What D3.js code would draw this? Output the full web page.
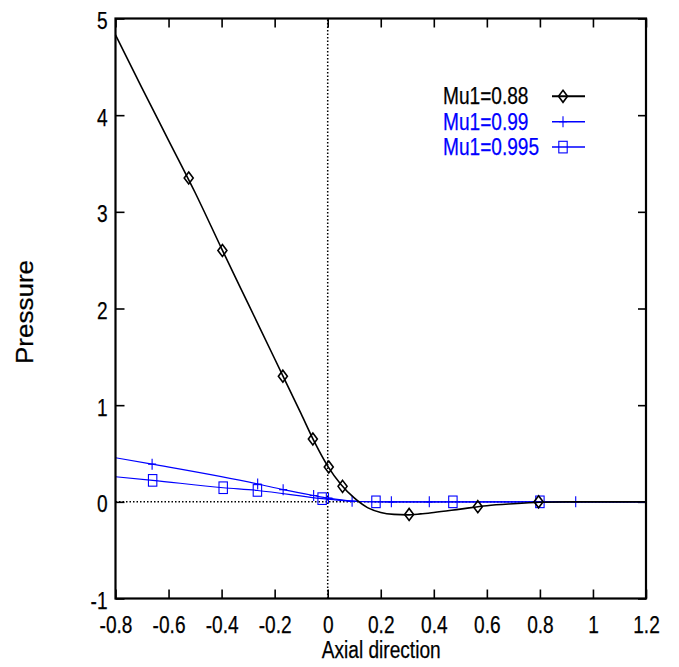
<!DOCTYPE html>
<html>
<head>
<meta charset="utf-8">
<script src="https://cdn.jsdelivr.net/npm/d3@7"></script>
<style>
  body { margin: 0; background: #fff; }
  svg { display: block; }
  text { font-family: "Liberation Sans", Arial, sans-serif; }
  .tick text { font-size: 23px; fill: #000; stroke: #000; stroke-width: 0.25px; }
</style>
</head>
<body>
<svg id="chart" width="679" height="667"></svg>
<script>
// Mu1 = 0.88 (black, diamonds)
const curveX88 = [-0.8, -0.7, -0.6, -0.5, -0.4, -0.3, -0.2, -0.1, -0.05, 0, 0.05, 0.1, 0.15, 0.2, 0.25, 0.3, 0.35, 0.4, 0.5, 0.6, 0.7, 0.8, 0.9, 1.0, 1.2];
const curveY88 = [4.83, 4.28, 3.74, 3.20, 2.62, 2.05, 1.48, 0.91, 0.62, 0.37, 0.18, 0.04, -0.06, -0.11, -0.13, -0.135, -0.125, -0.11, -0.075, -0.04, -0.02, -0.005, 0, 0, 0];
const markX88 = [-0.524, -0.397, -0.169, -0.056, 0.004, 0.056, 0.307, 0.566, 0.795];
const markY88 = [3.35, 2.60, 1.30, 0.65, 0.36, 0.16, -0.13, -0.05, 0.0];

// Mu1 = 0.99 (blue, plus)
const curveX99 = [-0.8, -0.662, -0.264, -0.168, -0.053, 0.003, 0.092, 0.15, 0.24, 1.2];
const curveY99 = [0.456, 0.39, 0.185, 0.126, 0.065, 0.038, 0.008, 0.001, 0, 0];
const markX99 = [-0.662, -0.264, -0.168, -0.053, 0.003, 0.092, 0.24, 0.383, 0.935];
const markY99 = [0.39, 0.185, 0.126, 0.065, 0.038, 0.005, 0, 0, 0];

// Mu1 = 0.995 (blue, squares)
const curveX995 = [-0.8, -0.66, -0.394, -0.265, -0.021, 0.05, 0.12, 0.182, 1.2];
const curveY995 = [0.26, 0.222, 0.146, 0.118, 0.033, 0.015, 0.003, 0, 0];
const markX995 = [-0.66, -0.394, -0.265, -0.021, 0.182, 0.472, 0.80];
const markY995 = [0.222, 0.146, 0.118, 0.033, 0, 0, 0];

const xTicks = [-0.8, -0.6, -0.4, -0.2, 0, 0.2, 0.4, 0.6, 0.8, 1, 1.2];
const yTicks = [-1, 0, 1, 2, 3, 4, 5];
const legendLabels = ['Mu1=0.88', 'Mu1=0.99', 'Mu1=0.995'];

const svg = d3.select('#chart');
const mLeft = 115.5, mRight = 646, mTop = 18.5, mBottom = 598.5;

const x = d3.scaleLinear().domain([-0.8, 1.2]).range([mLeft, mRight]);
const y = d3.scaleLinear().domain([-1, 5]).range([mBottom, mTop]);

const zip = (xs, ys) => xs.map((v, i) => [v, ys[i]]);
const series = [
  { label: legendLabels[0], color: '#000', width: 1.6, shape: 'diamond', line: zip(curveX88, curveY88), marks: zip(markX88, markY88) },
  { label: legendLabels[1], color: '#0000ff', width: 1.1, shape: 'plus', line: zip(curveX99, curveY99), marks: zip(markX99, markY99) },
  { label: legendLabels[2], color: '#0000ff', width: 1.1, shape: 'square', line: zip(curveX995, curveY995), marks: zip(markX995, markY995) }
];

// squeeze text horizontally (the reference uses a condensed face)
function narrow(sel, k = 0.83) {
  sel.each(function () {
    const w = this.getComputedTextLength();
    d3.select(this).attr('textLength', w * k).attr('lengthAdjust', 'spacingAndGlyphs');
  });
}

// axes with inward ticks
const fmt = d => String(d);
svg.append('g')
  .attr('transform', `translate(0,${mBottom})`)
  .call(d3.axisBottom(x).tickValues(xTicks).tickSize(-9).tickPadding(18).tickFormat(fmt))
  .call(g => g.select('.domain').remove())
  .call(g => narrow(g.selectAll('text')));
svg.append('g')
  .attr('transform', `translate(${mLeft},0)`)
  .call(d3.axisLeft(y).tickValues(yTicks).tickSize(-9).tickPadding(8).tickFormat(fmt))
  .call(g => g.select('.domain').remove())
  .call(g => g.selectAll('text').attr('dy', '0.43em'))
  .call(g => narrow(g.selectAll('text')));
svg.append('g')
  .attr('transform', `translate(0,${mTop})`)
  .call(d3.axisTop(x).tickValues(xTicks).tickSize(-9).tickFormat(''))
  .call(g => g.select('.domain').remove());
svg.append('g')
  .attr('transform', `translate(${mRight},0)`)
  .call(d3.axisRight(y).tickValues(yTicks).tickSize(-8).tickFormat(''))
  .call(g => g.select('.domain').remove());
svg.selectAll('.tick line').attr('stroke', '#000').attr('stroke-width', 1.6);

// zero lines
svg.append('line')
  .attr('x1', x(-0.8)).attr('x2', x(1.2)).attr('y1', y(0)).attr('y2', y(0))
  .attr('stroke', '#000').attr('stroke-width', 1.5).attr('stroke-dasharray', '1.5,2');
svg.append('line')
  .attr('x1', x(0)).attr('x2', x(0)).attr('y1', y(-1)).attr('y2', y(5))
  .attr('stroke', '#000').attr('stroke-width', 1.5).attr('stroke-dasharray', '1.5,2');

// markers
function marker(g, shape, color) {
  if (shape === 'diamond') {
    g.append('path').attr('d', 'M0,-6L4.5,0L0,6L-4.5,0Z')
      .attr('fill', 'none').attr('stroke', color).attr('stroke-width', 1.6);
  } else if (shape === 'plus') {
    g.append('path').attr('d', 'M-4,0H4M0,-5.5V5.5')
      .attr('fill', 'none').attr('stroke', color).attr('stroke-width', 1.1);
  } else {
    g.append('rect').attr('x', -4.2).attr('y', -5.8).attr('width', 8.4).attr('height', 11.6)
      .attr('fill', 'none').attr('stroke', color).attr('stroke-width', 1.1);
  }
}

const line = d3.line().x(d => x(d[0])).y(d => y(d[1])).curve(d3.curveMonotoneX);
const plot = svg.append('g');
series.slice().reverse().forEach(s => {
  plot.append('path')
    .attr('d', line(s.line))
    .attr('fill', 'none').attr('stroke', s.color).attr('stroke-width', s.width);
  s.marks.forEach(m => {
    marker(plot.append('g').attr('transform', `translate(${x(m[0])},${y(m[1])})`), s.shape, s.color);
  });
});

// frame
svg.append('rect')
  .attr('x', mLeft).attr('y', mTop).attr('width', mRight - mLeft).attr('height', mBottom - mTop)
  .attr('fill', 'none').attr('stroke', '#000').attr('stroke-width', 2.2);

// legend
const legend = svg.append('g');
series.forEach((s, i) => {
  const by = 104.3 + i * 25.4;
  legend.append('text')
    .attr('x', 443).attr('y', by)
    .style('font-size', '23px')
    .attr('fill', s.color)
    .attr('stroke', s.color).attr('stroke-width', 0.25)
    .text(s.label)
    .call(narrow);
  legend.append('line')
    .attr('x1', 552).attr('x2', 585).attr('y1', by - 8).attr('y2', by - 8)
    .attr('stroke', s.color).attr('stroke-width', s.width + 0.4);
  marker(legend.append('g').attr('transform', `translate(563,${by - 8})`), s.shape, s.color);
});

// axis titles
svg.append('text')
  .attr('x', (mLeft + mRight) / 2 + 0.5).attr('y', 658)
  .attr('text-anchor', 'middle')
  .style('font-size', '23px')
  .attr('stroke', '#000').attr('stroke-width', 0.25)
  .text('Axial direction')
  .call(narrow);
svg.append('text')
  .attr('transform', 'translate(33,312) rotate(-90)')
  .attr('text-anchor', 'middle')
  .attr('textLength', 104).attr('lengthAdjust', 'spacingAndGlyphs')
  .style('font-size', '23px')
  .attr('stroke', '#000').attr('stroke-width', 0.25)
  .text('Pressure');
</script>
</body>
</html>
